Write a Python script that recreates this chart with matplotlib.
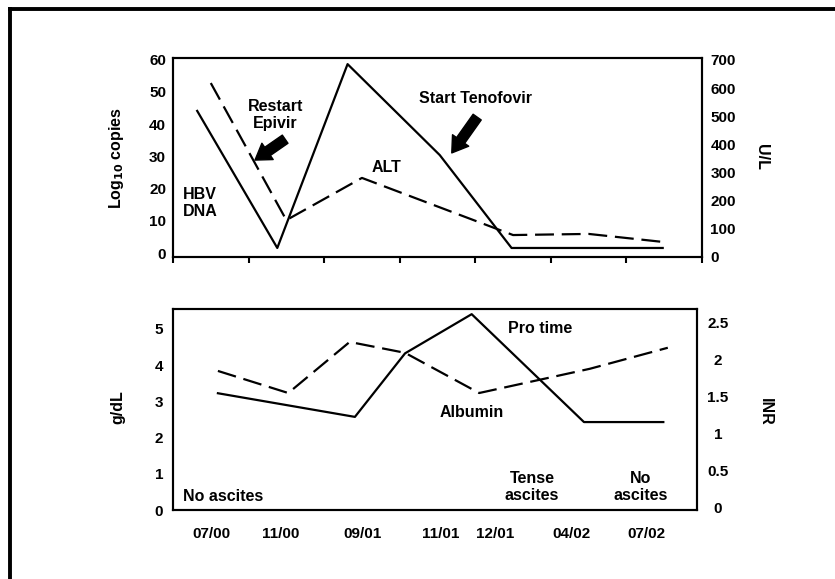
import matplotlib
matplotlib.use("Agg")
import matplotlib.pyplot as plt
from matplotlib.lines import Line2D

plt.rcParams['font.family'] = ['Liberation Sans', 'DejaVu Sans']
plt.rcParams['font.weight'] = 'bold'
plt.rcParams['font.size'] = 11

# --- top panel data (x in category units, 0..7) ---
dna_x = [0.32, 1.38, 2.31, 3.53, 4.48, 6.48]
dna_log = [44.1, 1.6, 58.6, 30.4, 1.6, 1.6]
alt_x = [0.5, 1.5, 2.5, 4.5, 5.5, 6.5]
alt_ul = [618, 131, 281, 78, 82, 53]
top_left_ticks = [0, 10, 20, 30, 40, 50, 60]
top_right_ticks = [0, 100, 200, 300, 400, 500, 600, 700]

# --- bottom panel data ---
albumin_x = [0.60, 1.54, 2.36, 3.10, 4.09, 5.57, 6.61]
albumin = [3.84, 3.23, 4.64, 4.34, 3.23, 3.90, 4.48]
protime_x = [0.60, 2.43, 3.10, 3.99, 5.49, 6.55]
inr = [1.54, 1.22, 2.08, 2.61, 1.15, 1.15]
date_pos = [0.52, 1.44, 2.53, 3.57, 4.30, 5.33, 6.33]
date_labels = ['07/00', '11/00', '09/01', '11/01', '12/01', '04/02', '07/02']
bot_left_ticks = [0, 1, 2, 3, 4, 5]
bot_right_ticks = [0, 0.5, 1, 1.5, 2, 2.5]
bot_right_labels = ['0', '0.5', '1', '1.5', '2', '2.5']

W, H = 835, 579
fig = plt.figure(figsize=(W / 100, H / 100), dpi=100)

DASH = (0, (8.5, 3.5))
LW = 1.6

# outer page border (left and top only)
fig.add_artist(Line2D([10 / W, 10 / W], [0, 1 - 8.5 / H], color='black', lw=2.8,
                      transform=fig.transFigure, solid_capstyle='projecting'))
fig.add_artist(Line2D([10 / W, 1], [1 - 8.5 / H, 1 - 8.5 / H], color='black', lw=2.8,
                      transform=fig.transFigure, solid_capstyle='projecting'))

# ---------------- top panel ----------------
ax1 = fig.add_axes([173 / W, 1 - 257 / H, 529 / W, 199 / H])
ax1.plot(dna_x, dna_log, color='black', lw=LW)
ax1.set_xlim(0, 7)
ax1.set_ylim(-1.2, 60.5)
ax1.set_yticks(top_left_ticks)
ax1.set_xticks(range(8))
ax1.set_xticklabels([])
ax1.tick_params(axis='x', direction='out', length=4, width=1.5)
ax1.tick_params(axis='y', length=0, pad=5, labelsize=11)
for s in ax1.spines.values():
    s.set_linewidth(1.5)

ax1r = ax1.twinx()
ax1r.plot(alt_x, alt_ul, color='black', lw=LW, linestyle=DASH)
ax1r.set_ylim(0, 707)
ax1r.set_yticks(top_right_ticks)
ax1r.tick_params(axis='y', length=0, pad=6, labelsize=11)
for s in ax1r.spines.values():
    s.set_linewidth(1.5)

ax1.text(0.193, 0.714, 'Restart\nEpivir', transform=ax1.transAxes, ha='center', va='center',
         fontsize=11.5, linespacing=1.15)
ax1.text(0.572, 0.794, 'Start Tenofovir', transform=ax1.transAxes, ha='center', va='center',
         fontsize=11.5)
ax1.text(0.403, 0.452, 'ALT', transform=ax1.transAxes, ha='center', va='center', fontsize=11.5)
ax1.text(0.019, 0.271, 'HBV\nDNA', transform=ax1.transAxes, ha='left', va='center',
         fontsize=11.5, linespacing=1.15)

arrow_style = dict(arrowstyle='simple,head_length=1.0,head_width=1.3,tail_width=0.65',
                   color='black', shrinkA=0, shrinkB=0)
ax1.annotate('', xy=(0.155, 0.487), xytext=(0.212, 0.592), xycoords='axes fraction',
             arrowprops=arrow_style)
ax1.annotate('', xy=(0.527, 0.523), xytext=(0.575, 0.703), xycoords='axes fraction',
             arrowprops=arrow_style)

fig.text(116 / W, 1 - 158 / H, r'Log$_{\mathbf{10}}$ copies', rotation=90, ha='center',
         va='center', fontsize=11.5)
fig.text(762 / W, 1 - 157 / H, 'U/L', rotation=270, ha='center', va='center', fontsize=11.5)

# ---------------- bottom panel ----------------
ax2 = fig.add_axes([173 / W, 1 - 510 / H, 524 / W, 201 / H])
ax2.plot(albumin_x, albumin, color='black', lw=LW, linestyle=DASH)
ax2.set_xlim(0, 7)
ax2.set_ylim(0, 5.55)
ax2.set_yticks(bot_left_ticks)
ax2.set_xticks(date_pos)
ax2.set_xticklabels(date_labels)
ax2.tick_params(axis='x', length=0, pad=12, labelsize=11)
ax2.tick_params(axis='y', length=0, pad=7, labelsize=11)
for s in ax2.spines.values():
    s.set_linewidth(1.5)

ax2r = ax2.twinx()
ax2r.plot(protime_x, inr, color='black', lw=LW)
ax2r.set_ylim(-0.04, 2.68)
ax2r.set_yticks(bot_right_ticks)
ax2r.set_yticklabels(bot_right_labels, ha='center')
ax2r.tick_params(axis='y', length=0, pad=15, labelsize=11)
for s in ax2r.spines.values():
    s.set_linewidth(1.5)

ax2.text(0.700, 0.905, 'Pro time', transform=ax2.transAxes, ha='center', va='center',
         fontsize=11.5)
ax2.text(0.571, 0.483, 'Albumin', transform=ax2.transAxes, ha='center', va='center',
         fontsize=11.5)
ax2.text(0.019, 0.065, 'No ascites', transform=ax2.transAxes, ha='left', va='center',
         fontsize=11.5)
ax2.text(0.685, 0.114, 'Tense\nascites', transform=ax2.transAxes, ha='center', va='center',
         fontsize=11.5, linespacing=1.15)
ax2.text(0.893, 0.114, 'No\nascites', transform=ax2.transAxes, ha='center', va='center',
         fontsize=11.5, linespacing=1.15)

fig.text(118 / W, 1 - 407 / H, 'g/dL', rotation=90, ha='center', va='center', fontsize=11.5)
fig.text(765 / W, 1 - 412 / H, 'INR', rotation=270, ha='center', va='center', fontsize=11.5)

fig.savefig('out.png', dpi=100)
